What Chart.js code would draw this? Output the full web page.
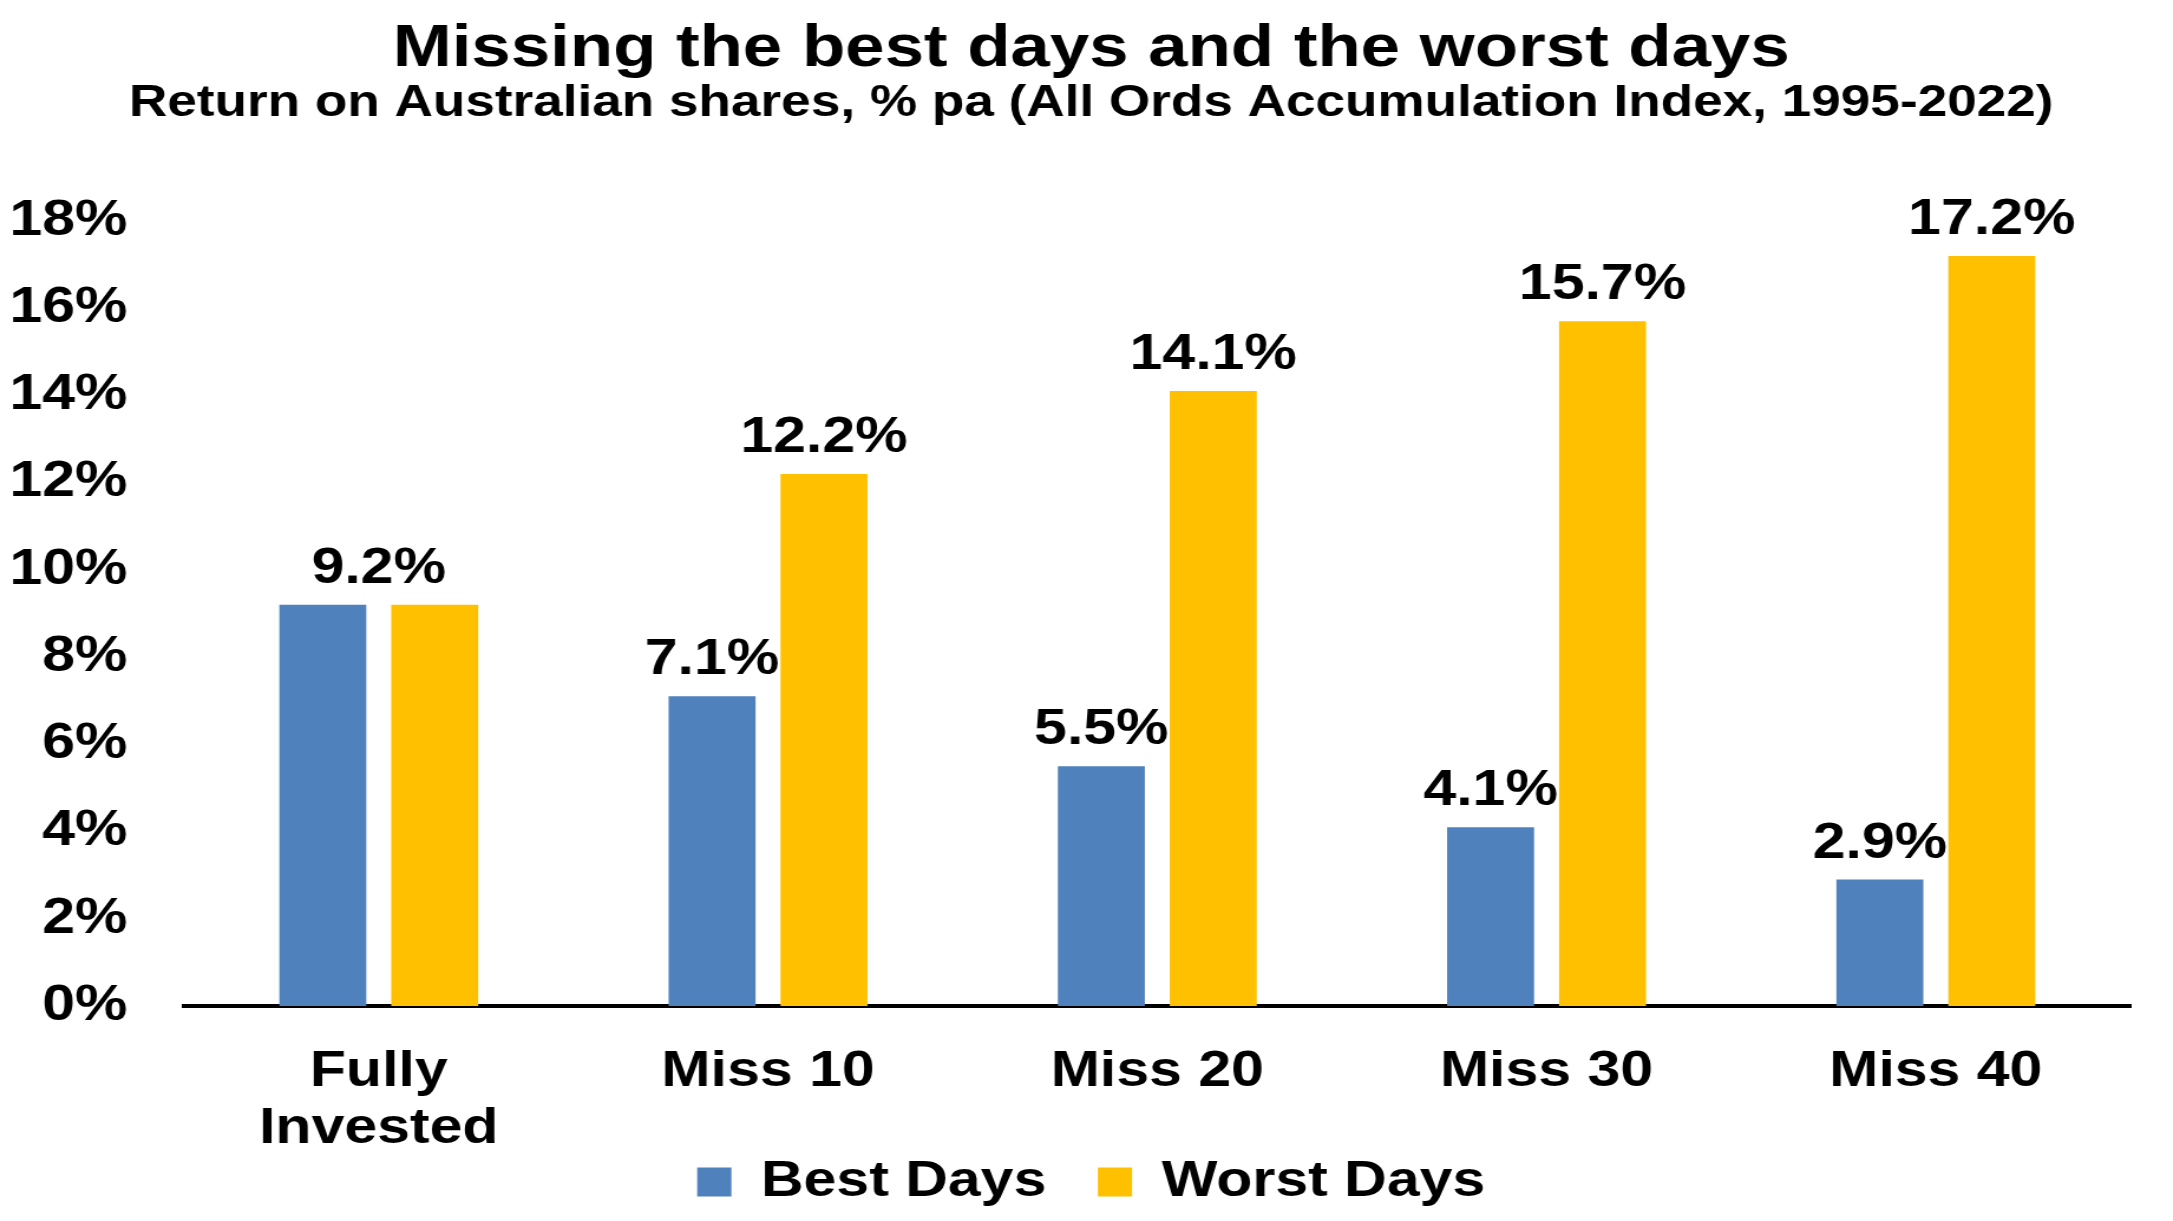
<!DOCTYPE html>
<html>
<head>
<meta charset="utf-8">
<script src="https://cdn.jsdelivr.net/npm/chart.js@4.4.0/dist/chart.umd.min.js"></script>
<style>
  html, body { margin: 0; padding: 0; background: #fff; overflow: hidden; }
  #wrap { width: 1841px; height: 1221px; transform: scaleX(1.1803); transform-origin: 0 0; }
</style>
</head>
<body>
<div id="wrap"><canvas id="missing" width="1841" height="1221"></canvas></div>
<script>
var categories = [["Fully", "Invested"], "Miss 10", "Miss 20", "Miss 30", "Miss 40"];
var bestDays = [9.2, 7.1, 5.5, 4.1, 2.9];
var worstDays = [9.2, 12.2, 14.1, 15.7, 17.2];
var seriesNames = ["Best Days", "Worst Days"];
var yTicks = [0, 2, 4, 6, 8, 10, 12, 14, 16, 18];

var FONT = '"Liberation Sans", Arial, sans-serif';
var blue = '#4F81BD';
var gold = '#FFC000';

var fmt = function(v) { return v.toFixed(1) + '%'; };

// value labels above the bars, one shared label when both bars are equal
var barLabels = {
  id: 'barLabels',
  afterDatasetsDraw: function(chart) {
    var ctx = chart.ctx;
    var m0 = chart.getDatasetMeta(0), m1 = chart.getDatasetMeta(1);
    ctx.save();
    ctx.font = 'bold 50px ' + FONT;
    ctx.fillStyle = '#000';
    ctx.textAlign = 'center';
    ctx.textBaseline = 'alphabetic';
    for (var i = 0; i < categories.length; i++) {
      var a = m0.data[i], b = m1.data[i];
      if (bestDays[i] === worstDays[i]) {
        ctx.fillText(fmt(bestDays[i]), (a.x + b.x) / 2, a.y - 22);
      } else {
        ctx.fillText(fmt(bestDays[i]), a.x, a.y - 22);
        ctx.fillText(fmt(worstDays[i]), b.x, b.y - 22);
      }
    }
    ctx.restore();
  }
};

// title, subtitle and legend are centred on the page, not on the padded box
var centerBlocks = {
  id: 'centerBlocks',
  afterLayout: function(chart) {
    chart.boxes.forEach(function(b) {
      if (!b.axis) b.left += 36;
    });
  }
};

var ctx = document.getElementById('missing').getContext('2d');
var chart = new Chart(ctx, {
  type: 'bar',
  data: {
    labels: categories,
    datasets: [{
      label: seriesNames[0],
      data: bestDays,
      backgroundColor: blue,
      categoryPercentage: 0.575,
      barPercentage: 0.777
    }, {
      label: seriesNames[1],
      data: worstDays,
      backgroundColor: gold,
      categoryPercentage: 0.575,
      barPercentage: 0.777
    }]
  },
  options: {
    responsive: false,
    animation: false,
    devicePixelRatio: 1,
    layout: { padding: { left: 8, right: 36, top: 19, bottom: 4 } },
    plugins: {
      title: {
        display: true,
        text: 'Missing the best days and the worst days',
        color: '#000',
        font: { family: FONT, size: 60, weight: 'bold', lineHeight: 1.0 },
        padding: { top: 0, bottom: 2 }
      },
      subtitle: {
        display: true,
        text: 'Return on Australian shares, % pa (All Ords Accumulation Index, 1995-2022)',
        color: '#000',
        font: { family: FONT, size: 45, weight: 'bold', lineHeight: 1.0 },
        padding: { top: 0, bottom: 95 }
      },
      legend: {
        position: 'bottom',
        labels: {
          color: '#000',
          font: { family: FONT, size: 50, weight: 'bold' },
          boxWidth: 29,
          boxHeight: 29,
          padding: 2,
          generateLabels: function(c) {
            var items = Chart.defaults.plugins.legend.labels.generateLabels(c);
            items[0].text = items[0].text + '   ';
            items.forEach(function(it) { it.lineWidth = 0; });
            return items;
          }
        }
      },
      tooltip: { enabled: false }
    },
    scales: {
      x: {
        grid: { display: false, drawTicks: false },
        border: { display: true, color: '#000', width: 4 },
        afterFit: function(axis) { axis.height = 149; },
        ticks: {
          color: '#000',
          padding: 37,
          maxRotation: 0,
          font: { family: FONT, size: 50, weight: 'bold', lineHeight: 1.15 }
        }
      },
      y: {
        min: yTicks[0],
        max: yTicks[yTicks.length - 1],
        grid: { display: false, drawTicks: false },
        border: { display: false },
        afterFit: function(axis) { axis.width = 148; },
        afterBuildTicks: function(axis) {
          axis.ticks = yTicks.map(function(v) { return { value: v }; });
        },
        ticks: {
          color: '#000',
          padding: 48,
          font: { family: FONT, size: 50, weight: 'bold' },
          callback: function(v) { return v + '%'; }
        }
      }
    }
  },
  plugins: [barLabels, centerBlocks]
});
</script>
</body>
</html>
